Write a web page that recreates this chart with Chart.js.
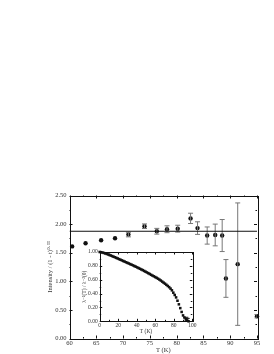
<!DOCTYPE html>
<html>
<head>
<meta charset="utf-8">
<script src="https://cdn.jsdelivr.net/npm/chart.js@4.4.1/dist/chart.umd.min.js"></script>
<style>
  html, body { margin: 0; padding: 0; background: #fff; }
  #wrap { position: relative; width: 274px; height: 354px; }
  #main { position: absolute; left: 0; top: 0; }
  #inset { position: absolute; left: 78px; top: 245px; }
</style>
</head>
<body>
<div id="wrap">
  <canvas id="main" width="274" height="354"></canvas>
  <canvas id="inset" width="122" height="91"></canvas>
</div>
<script>
// ── Main panel data: scaled intensity vs temperature ──────────────
const tempK = [60.5, 63.0, 65.9, 68.5, 71.0, 74.0, 76.3, 78.2, 80.2, 82.6, 83.9, 85.7, 87.2, 88.5, 89.2, 91.4, 95.0];
const intensity = [1.61, 1.665, 1.717, 1.752, 1.817, 1.963, 1.875, 1.91, 1.92, 2.10, 1.93, 1.80, 1.81, 1.80, 1.05, 1.30, 0.39];
const intensityErr = [0, 0, 0, 0, 0.04, 0.04, 0.05, 0.06, 0.06, 0.09, 0.11, 0.15, 0.19, 0.28, 0.33, 1.07, 0.03];
const meanLevel = 1.875;
const xTicksMain = [60, 95, 5];      // min, max, step
const yTicksMain = [0, 2.5, 0.5];

// ── Inset data: normalised superfluid density ─────────────────────
const insetT = [
  0, 1.5, 3, 4.5, 6, 7.5, 9, 10.5, 12, 13.5, 15, 16.5, 18, 19.5, 21, 22.5,
  24, 25.5, 27, 28.5, 30, 31.5, 33, 34.5, 36, 37.5, 39, 40.5, 42, 43.5, 45, 46.5,
  48, 49.5, 51, 52.5, 54, 55.5, 57, 58.5, 60, 61.5, 63, 64.5, 66, 67.5, 69, 70.5,
  72, 73.5, 75, 76.5, 78, 79.5, 81, 82.5, 84, 85.5, 87, 88.5, 90, 91.5, 93, 94.5, 96
];
const insetRatio = [
  1.000, 0.997, 0.992, 0.986, 0.980, 0.973, 0.965, 0.957, 0.949, 0.941, 0.932, 0.924, 0.915, 0.906, 0.897, 0.888,
  0.879, 0.870, 0.861, 0.852, 0.843, 0.834, 0.825, 0.816, 0.807, 0.797, 0.788, 0.778, 0.768, 0.758, 0.748, 0.738,
  0.727, 0.716, 0.705, 0.694, 0.683, 0.671, 0.660, 0.649, 0.638, 0.627, 0.615, 0.602, 0.588, 0.573, 0.558, 0.543,
  0.527, 0.510, 0.493, 0.472, 0.447, 0.413, 0.380, 0.345, 0.297, 0.245, 0.190, 0.135, 0.085, 0.055, 0.028, 0.012, 0.000
];
const insetErrT = [93, 94.5];
const insetErrV = [0.028, 0.012];
const insetErr = [0.03, 0.03];

const FONT = "'Liberation Serif', 'DejaVu Serif', serif";
const INK = '#111';
const TEXT = '#333';
const BAR = '#777';

Chart.defaults.font.family = FONT;

// whiskers as one broken line: lo, hi, gap
function whiskers(xs, ys, errs) {
  const out = [];
  xs.forEach((x, i) => {
    if (!errs[i]) return;
    out.push({ x: x, y: ys[i] - errs[i] }, { x: x, y: ys[i] + errs[i] }, { x: x, y: null });
  });
  return out;
}
function caps(xs, ys, errs) {
  const out = [];
  xs.forEach((x, i) => {
    if (!errs[i]) return;
    out.push({ x: x, y: ys[i] - errs[i] }, { x: x, y: ys[i] + errs[i] });
  });
  return out;
}

// frame with inward major/minor ticks on all four sides
const frameTicks = {
  id: 'frameTicks',
  beforeDatasetsDraw(chart, args, opts) {
    const { ctx, chartArea: a, scales: { x, y } } = chart;
    ctx.save();
    ctx.strokeStyle = INK;
    ctx.lineWidth = 1;
    ctx.strokeRect(Math.round(a.left) + 0.5, Math.round(a.top) + 0.5,
      Math.round(a.right - a.left), Math.round(a.bottom - a.top));
    ctx.beginPath();
    const isMajor = (v, min, step) => Math.abs((v - min) / step - Math.round((v - min) / step)) < 1e-6;
    for (let v = x.min; v <= x.max + 1e-9; v += opts.xMinor) {
      const len = isMajor(v, x.min, opts.xMajor) ? opts.major : opts.minor;
      const px = Math.round(x.getPixelForValue(v)) + 0.5;
      ctx.moveTo(px, a.bottom); ctx.lineTo(px, a.bottom - len);
      ctx.moveTo(px, a.top); ctx.lineTo(px, a.top + len);
    }
    for (let v = y.min; v <= y.max + 1e-9; v += opts.yMinor) {
      const len = isMajor(v, y.min, opts.yMajor) ? opts.major : opts.minor;
      const py = Math.round(y.getPixelForValue(v)) + 0.5;
      ctx.moveTo(a.left, py); ctx.lineTo(a.left + len, py);
      ctx.moveTo(a.right, py); ctx.lineTo(a.right - len, py);
    }
    ctx.stroke();
    ctx.restore();
  }
};

function axis(min, max, step, fmt, size, fit, title, titlePad, tickPad) {
  return {
    type: 'linear', min: min, max: max,
    afterFit: fit,
    grid: { display: false, drawTicks: false, tickLength: 0 },
    border: { display: false },
    ticks: {
      stepSize: step, autoSkip: false, maxRotation: 0, padding: tickPad,
      color: TEXT, font: { family: FONT, size: size },
      callback: fmt
    },
    title: { display: true, text: title, color: TEXT, font: { family: FONT, size: size }, padding: titlePad }
  };
}

// ── Main chart ────────────────────────────────────────────────────
new Chart(document.getElementById('main'), {
  type: 'scatter',
  data: {
    datasets: [
      {
        data: [{ x: xTicksMain[0], y: meanLevel }, { x: xTicksMain[1], y: meanLevel }],
        showLine: true, borderColor: INK, borderWidth: 1, pointRadius: 0
      },
      {
        data: whiskers(tempK, intensity, intensityErr),
        showLine: true, spanGaps: false, borderColor: BAR, borderWidth: 1, pointRadius: 0
      },
      {
        data: caps(tempK, intensity, intensityErr),
        pointStyle: 'line', pointRadius: 2.5, borderColor: BAR, borderWidth: 1
      },
      {
        data: tempK.map((t, i) => ({ x: t, y: intensity[i] })),
        pointStyle: 'circle', pointRadius: 2.2, backgroundColor: INK, borderColor: INK, borderWidth: 0,
        clip: false
      }
    ]
  },
  options: {
    responsive: false, animation: false, events: [],
    layout: { padding: { left: 40, top: 195.5, right: 17, bottom: 0 } },
    plugins: {
      legend: { display: false }, tooltip: { enabled: false },
      frameTicks: { xMajor: 5, xMinor: 2.5, yMajor: 0.5, yMinor: 0.25, major: 3, minor: 1.5 }
    },
    scales: {
      x: axis(xTicksMain[0], xTicksMain[1], xTicksMain[2], v => String(v), 6.5,
        s => { s.height = 15.5; }, 'T (K)', { top: 0, bottom: 0 }, 1),
      y: axis(yTicksMain[0], yTicksMain[1], yTicksMain[2], v => v.toFixed(2), 6.5,
        s => { s.width = 29.5; }, 'Intensity / (1 - t)\u2070\u00b7\u00b3\u00b3', { top: 6, bottom: 0 }, 3)
    }
  },
  plugins: [frameTicks]
});

// ── Inset chart ───────────────────────────────────────────────────
new Chart(document.getElementById('inset'), {
  type: 'scatter',
  data: {
    datasets: [
      {
        data: whiskers(insetErrT, insetErrV, insetErr),
        showLine: true, spanGaps: false, borderColor: INK, borderWidth: 1, pointRadius: 0
      },
      {
        data: caps(insetErrT, insetErrV, insetErr),
        pointStyle: 'line', pointRadius: 2.5, borderColor: INK, borderWidth: 1
      },
      {
        data: insetT.map((t, i) => ({ x: t, y: insetRatio[i] })),
        pointStyle: 'rect', pointRadius: 1.8, backgroundColor: INK, borderColor: INK, borderWidth: 0,
        clip: false
      }
    ]
  },
  options: {
    responsive: false, animation: false, events: [],
    layout: { padding: { left: 0, top: 7, right: 7.7, bottom: 0 } },
    plugins: {
      legend: { display: false }, tooltip: { enabled: false },
      frameTicks: { xMajor: 20, xMinor: 10, yMajor: 0.2, yMinor: 0.1, major: 2.5, minor: 1.5 }
    },
    scales: {
      x: axis(0, 100, 20, v => String(v), 5.5,
        s => { s.height = 14.7; }, 'T (K)', { top: 0, bottom: 1.5 }, 0.5),
      y: axis(0, 1, 0.2, v => v.toFixed(2), 5.5,
        s => { s.width = 21.7; }, '\u03bb\u207b\u00b2(T) / \u03bb\u207b\u00b2(0)', { top: 3.5, bottom: 0 }, 2)
    }
  },
  plugins: [frameTicks]
});
</script>
</body>
</html>
